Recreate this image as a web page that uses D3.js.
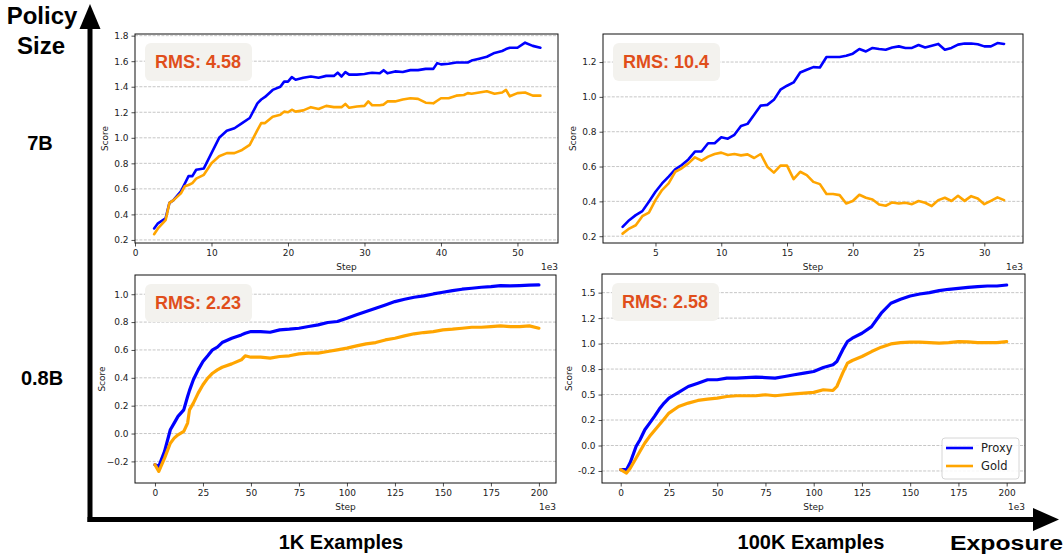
<!DOCTYPE html>
<html>
<head>
<meta charset="utf-8">
<script src="https://cdn.jsdelivr.net/npm/d3@7"></script>
<style>
  html, body { margin: 0; padding: 0; background: #fff; }
  svg { display: block; }
  .tick text { font-family: "DejaVu Sans", sans-serif; font-size: 9px; fill: #222; }
  .tick line { stroke: #222; stroke-width: 0.8; }
</style>
</head>
<body>
<div id="chart"></div>
<script>
// ---- data (steps in thousands) ----
// 7B policy, 1K examples
const tlSteps = [2.5,3,4,4.5,5,6,6.5,7,7.5,8,9,10,11,12,13,14,15,16,16.5,17,18,19,19.5,20,20.5,21,22,23,24,25,26,26.5,27,27.5,28,29,30,30.5,31,32,32.5,33,34,35,36,37,38,39,39.5,40,41,42,43,43.5,44,45,46,47,48,48.5,49,50,51,52,53];
const tlProxy = [0.29,0.33,0.37,0.49,0.51,0.58,0.64,0.70,0.70,0.75,0.76,0.88,1.00,1.055,1.075,1.115,1.155,1.27,1.30,1.32,1.375,1.40,1.44,1.44,1.475,1.455,1.47,1.48,1.47,1.485,1.485,1.51,1.48,1.515,1.495,1.495,1.50,1.505,1.51,1.505,1.53,1.505,1.52,1.515,1.53,1.53,1.54,1.54,1.585,1.575,1.58,1.59,1.59,1.59,1.605,1.62,1.635,1.665,1.68,1.695,1.705,1.705,1.745,1.72,1.705];
const tlGold = [0.245,0.29,0.355,0.49,0.51,0.565,0.62,0.63,0.645,0.68,0.71,0.80,0.855,0.88,0.88,0.905,0.945,1.06,1.115,1.115,1.165,1.18,1.205,1.20,1.22,1.205,1.215,1.24,1.225,1.25,1.24,1.24,1.24,1.265,1.235,1.245,1.25,1.285,1.255,1.255,1.26,1.285,1.285,1.30,1.31,1.305,1.275,1.27,1.29,1.31,1.31,1.33,1.335,1.35,1.345,1.355,1.365,1.345,1.355,1.375,1.325,1.35,1.355,1.33,1.33];

// 7B policy, 100K examples
const trSteps = [2.5,3,3.5,4,4.5,5,5.5,6,6.5,7,7.5,8,8.5,9,9.5,10,10.5,11,11.5,12,12.5,13,13.5,14,14.5,15,15.5,16,16.5,17,17.5,18,18.5,19,19.5,20,20.5,21,21.5,22,22.5,23,23.5,24,24.5,25,25.5,26,26.5,27,27.5,28,28.5,29,29.5,30,30.5,31,31.5];
const trProxy = [0.254,0.292,0.321,0.344,0.398,0.455,0.503,0.542,0.584,0.609,0.641,0.686,0.686,0.734,0.734,0.768,0.760,0.782,0.833,0.845,0.897,0.950,0.954,0.983,1.041,1.064,1.083,1.140,1.156,1.171,1.169,1.229,1.229,1.229,1.236,1.248,1.275,1.261,1.281,1.275,1.271,1.284,1.290,1.281,1.281,1.298,1.284,1.294,1.304,1.271,1.281,1.300,1.306,1.306,1.302,1.290,1.290,1.309,1.304];
const trGold = [0.215,0.244,0.263,0.315,0.336,0.407,0.465,0.503,0.570,0.590,0.618,0.653,0.634,0.657,0.672,0.680,0.666,0.672,0.664,0.670,0.649,0.672,0.599,0.565,0.605,0.605,0.528,0.570,0.551,0.512,0.499,0.442,0.442,0.436,0.388,0.402,0.438,0.421,0.411,0.382,0.375,0.394,0.388,0.392,0.384,0.402,0.392,0.373,0.407,0.421,0.402,0.432,0.403,0.430,0.417,0.384,0.403,0.423,0.407];

// 0.8B policy, 1K examples
const blSteps = [0,2,5,8,10,12,15,17,18,20,22.5,25,27.5,30,32.5,35,40,45,47,50,55,60,65,70,75,80,85,90,95,100,105,110,115,120,125,130,135,140,145,150,155,160,165,170,175,180,185,190,195,200];
const blProxy = [-0.224,-0.236,-0.128,0.027,0.075,0.123,0.170,0.266,0.31,0.386,0.457,0.517,0.558,0.601,0.620,0.653,0.684,0.708,0.720,0.732,0.732,0.727,0.744,0.749,0.756,0.768,0.780,0.797,0.804,0.828,0.852,0.876,0.900,0.923,0.947,0.964,0.978,0.988,1.002,1.014,1.026,1.036,1.043,1.050,1.055,1.062,1.060,1.062,1.065,1.067];
const blGold = [-0.224,-0.272,-0.176,-0.069,-0.033,-0.009,0.015,0.075,0.170,0.218,0.290,0.350,0.398,0.433,0.457,0.476,0.500,0.529,0.558,0.548,0.548,0.541,0.553,0.558,0.572,0.577,0.577,0.589,0.601,0.613,0.629,0.644,0.653,0.672,0.684,0.701,0.716,0.725,0.732,0.744,0.749,0.756,0.763,0.763,0.768,0.773,0.768,0.768,0.773,0.756];

// 0.8B policy, 100K examples
const brSteps = [0,3,5,8,10,12.5,15,17.5,20,22.5,25,30,35,40,45,50,55,60,65,70,75,80,85,90,95,100,105,110,112,115,117.5,120,125,130,135,140,145,150,155,160,165,170,175,180,185,190,195,200];
const brProxy = [-0.237,-0.237,-0.165,-0.008,0.057,0.155,0.220,0.286,0.357,0.416,0.465,0.521,0.579,0.612,0.645,0.645,0.661,0.661,0.667,0.671,0.667,0.661,0.677,0.694,0.710,0.726,0.765,0.792,0.824,0.938,1.020,1.053,1.102,1.167,1.298,1.396,1.435,1.467,1.487,1.500,1.520,1.533,1.542,1.552,1.559,1.565,1.565,1.575];
const brGold = [-0.237,-0.270,-0.221,-0.123,-0.057,0.024,0.090,0.148,0.204,0.26,0.318,0.383,0.416,0.442,0.455,0.465,0.481,0.488,0.488,0.488,0.498,0.488,0.498,0.507,0.514,0.521,0.547,0.540,0.579,0.710,0.808,0.834,0.873,0.922,0.965,0.997,1.010,1.014,1.014,1.010,1.004,1.010,1.020,1.017,1.010,1.010,1.010,1.020];

// ticks
const tlXTicks = [0,10,20,30,40,50];
const tlYTicks = [0.2,0.4,0.6,0.8,1.0,1.2,1.4,1.6,1.8];
const trXTicks = [5,10,15,20,25,30];
const trYTicks = [0.2,0.4,0.6,0.8,1.0,1.2];
const blXTicks = [0,25,50,75,100,125,150,175,200];
const blYTicks = [-0.2,0.0,0.2,0.4,0.6,0.8,1.0];
const brXTicks = [0,25,50,75,100,125,150,175,200];
const brYTicks = [-0.25,0,0.25,0.5,0.75,1.0,1.25,1.5];
const brYTickLabels = ["-0.2","0.0","0.2","0.5","0.8","1.0","1.2","1.5"];

const rmsLabels = ["RMS: 4.58", "RMS: 10.4", "RMS: 2.23", "RMS: 2.58"];
const seriesNames = ["Proxy", "Gold"];
const seriesColors = ["#0000ff", "#ffa500"];

const rowLabels = ["7B", "0.8B"];
const colLabels = ["1K Examples", "100K Examples"];

// ---- layout ----
const W = 1063, H = 554;
const svg = d3.select("#chart").append("svg")
  .attr("width", W).attr("height", H)
  .attr("viewBox", `0 0 ${W} ${H}`);

const panels = [
  { steps: tlSteps, proxy: tlProxy, gold: tlGold, xt: tlXTicks, yt: tlYTicks, yl: null, lw: 2.6,
    box: {l: 135, r: 558, t: 34, b: 243}, xd: [0, 55.3], yd: [0.176, 1.813], scoreX: 105, rms: rmsLabels[0] },
  { steps: trSteps, proxy: trProxy, gold: trGold, xt: trXTicks, yt: trYTicks, yl: null, lw: 2.6,
    box: {l: 603, r: 1023, t: 34, b: 243}, xd: [1.01, 32.94], yd: [0.161, 1.361], scoreX: 573, rms: rmsLabels[1] },
  { steps: blSteps, proxy: blProxy, gold: blGold, xt: blXTicks, yt: blYTicks, yl: null, lw: 3.2,
    box: {l: 135, r: 556, t: 275, b: 483}, xd: [-10.4, 208.9], yd: [-0.355, 1.138], scoreX: 102, rms: rmsLabels[2] },
  { steps: brSteps, proxy: brProxy, gold: brGold, xt: brXTicks, yt: brYTicks, yl: brYTickLabels, lw: 3.2,
    box: {l: 602, r: 1025, t: 274, b: 483}, xd: [-9.7, 209.5], yd: [-0.368, 1.683], scoreX: 569, rms: rmsLabels[3], legend: true }
];

const defs = svg.append("defs");

panels.forEach((p, pi) => {
  const b = p.box;
  const x = d3.scaleLinear().domain(p.xd).range([b.l, b.r]);
  const y = d3.scaleLinear().domain(p.yd).range([b.b, b.t]);
  const g = svg.append("g");

  defs.append("clipPath").attr("id", "clip" + pi)
    .append("rect").attr("x", b.l).attr("y", b.t).attr("width", b.r - b.l).attr("height", b.b - b.t);

  // grid
  g.append("g").selectAll("line").data(p.yt).join("line")
    .attr("x1", b.l).attr("x2", b.r)
    .attr("y1", d => y(d)).attr("y2", d => y(d))
    .attr("stroke", "#b8b8b8").attr("stroke-width", 0.8)
    .attr("stroke-dasharray", "3,1.4");

  // lines
  const line = d3.line().x(d => x(d[0])).y(d => y(d[1]));
  [p.proxy, p.gold].forEach((vals, si) => {
    g.append("path")
      .datum(p.steps.map((s, i) => [s, vals[i]]))
      .attr("clip-path", `url(#clip${pi})`)
      .attr("fill", "none")
      .attr("stroke", seriesColors[si])
      .attr("stroke-width", p.lw)
      .attr("stroke-linejoin", "round")
      .attr("stroke-linecap", "round")
      .attr("d", line);
  });

  // axes
  const xa = g.append("g").attr("transform", `translate(0,${b.b})`)
    .call(d3.axisBottom(x).tickValues(p.xt).tickSize(3.5).tickPadding(3).tickFormat(d3.format("d")));
  xa.select(".domain").remove();
  const ya = g.append("g").attr("transform", `translate(${b.l},0)`)
    .call(d3.axisLeft(y).tickValues(p.yt).tickSize(3.5).tickPadding(3)
      .tickFormat((d, i) => p.yl ? p.yl[i] : d3.format(".1f")(d)));
  ya.select(".domain").remove();

  // frame
  g.append("rect")
    .attr("x", b.l).attr("y", b.t).attr("width", b.r - b.l).attr("height", b.b - b.t)
    .attr("fill", "none").attr("stroke", "#111").attr("stroke-width", 1);

  // labels
  g.append("text").attr("x", (b.l + b.r) / 2).attr("y", b.b + 27)
    .attr("text-anchor", "middle").attr("font-family", "DejaVu Sans").attr("font-size", 9).attr("fill", "#222")
    .text("Step");
  g.append("text").attr("x", b.r).attr("y", b.b + 27)
    .attr("text-anchor", "end").attr("font-family", "DejaVu Sans").attr("font-size", 9).attr("fill", "#222")
    .text("1e3");
  g.append("text")
    .attr("transform", `translate(${p.scoreX},${(b.t + b.b) / 2}) rotate(-90)`)
    .attr("text-anchor", "middle").attr("dy", "0.35em")
    .attr("font-family", "DejaVu Sans").attr("font-size", 9).attr("fill", "#222")
    .text("Score");

  // RMS badge
  g.append("rect")
    .attr("x", b.l + 10).attr("y", b.t + 9).attr("width", 107).attr("height", 38)
    .attr("rx", 6).attr("fill", "#f3f2ee");
  g.append("text")
    .attr("x", b.l + 20).attr("y", b.t + 34)
    .attr("font-family", "Liberation Sans, Arial, sans-serif").attr("font-weight", "bold")
    .attr("font-size", 18).attr("fill", "#e04e1b")
    .text(p.rms);

  if (p.legend) {
    const lg = g.append("g").attr("transform", `translate(${b.r - 83},${b.b - 45})`);
    lg.append("rect").attr("width", 77).attr("height", 41).attr("rx", 3)
      .attr("fill", "#fff").attr("fill-opacity", 0.85)
      .attr("stroke", "#d6d6d6").attr("stroke-width", 1);
    seriesNames.forEach((n, i) => {
      lg.append("line").attr("x1", 4).attr("x2", 31)
        .attr("y1", 10 + i * 18).attr("y2", 10 + i * 18)
        .attr("stroke", seriesColors[i]).attr("stroke-width", 2.6);
      lg.append("text").attr("x", 39).attr("y", 10 + i * 18).attr("dy", "0.36em")
        .attr("font-family", "DejaVu Sans").attr("font-size", 11.5).attr("fill", "#222")
        .text(n);
    });
  }
});

// ---- big arrows ----
const ax = svg.append("g");
ax.append("line").attr("x1", 90).attr("x2", 90).attr("y1", 522).attr("y2", 24)
  .attr("stroke", "#000").attr("stroke-width", 5);
ax.append("path").attr("d", "M90,4 L79.5,29 L100.5,29 Z").attr("fill", "#000");
ax.append("line").attr("x1", 87.5).attr("x2", 1038).attr("y1", 519.5).attr("y2", 519.5)
  .attr("stroke", "#000").attr("stroke-width", 5);
ax.append("path").attr("d", "M1059,519.5 L1033,508 L1033,531 Z").attr("fill", "#000");

const big = "Liberation Sans, Arial, sans-serif";
svg.append("text").attr("x", 42).attr("y", 24).attr("text-anchor", "middle")
  .attr("font-family", big).attr("font-weight", "bold").attr("font-size", 24).text("Policy");
svg.append("text").attr("x", 41).attr("y", 54).attr("text-anchor", "middle")
  .attr("font-family", big).attr("font-weight", "bold").attr("font-size", 24).text("Size");
svg.append("text").attr("x", 40).attr("y", 150).attr("text-anchor", "middle")
  .attr("font-family", big).attr("font-weight", "bold").attr("font-size", 20).text(rowLabels[0]);
svg.append("text").attr("x", 42).attr("y", 385).attr("text-anchor", "middle")
  .attr("font-family", big).attr("font-weight", "bold").attr("font-size", 20).text(rowLabels[1]);
svg.append("text").attr("x", 341).attr("y", 549).attr("text-anchor", "middle")
  .attr("font-family", big).attr("font-weight", "bold").attr("font-size", 20).text(colLabels[0]);
svg.append("text").attr("x", 811).attr("y", 549).attr("text-anchor", "middle")
  .attr("font-family", big).attr("font-weight", "bold").attr("font-size", 20).text(colLabels[1]);
svg.append("text").attr("x", 950).attr("y", 550)
  .attr("font-family", big).attr("font-weight", "bold").attr("font-size", 20)
  .attr("textLength", 113).attr("lengthAdjust", "spacingAndGlyphs").text("Exposure");
</script>
</body>
</html>
